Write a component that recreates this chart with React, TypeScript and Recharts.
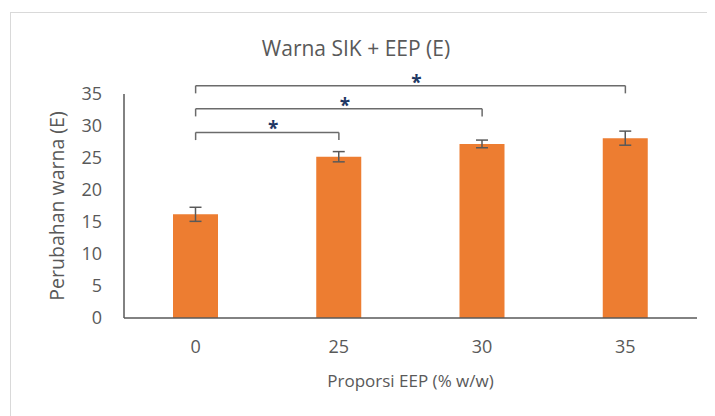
import React from 'react';
import { BarChart, Bar, XAxis, YAxis, ErrorBar, ReferenceLine } from 'recharts';

const categories = ['0', '25', '30', '35'];
const values = [16.2, 25.2, 27.2, 28.1];
const errors = [1.1, 0.8, 0.6, 1.1];
const yTicks = [0, 5, 10, 15, 20, 25, 30, 35];
const bracketFrom = ['0', '0', '0'];
const bracketTo = ['25', '30', '35'];
const bracketLevel = [29.0, 32.7, 36.3];
const bracketDrop = 1.2;

const data = categories.map((c, i) => ({ cat: c, value: values[i], err: errors[i] }));

const FONT = "'Open Sans', sans-serif";
const GRAY = '#595959';
const BRACKET = '#6b6b6b';

const box = (vb: any) => {
  if (vb && vb.x1 !== undefined) {
    return { x: Math.min(vb.x1, vb.x2), y: Math.min(vb.y1, vb.y2), width: Math.abs(vb.x2 - vb.x1), height: Math.abs(vb.y2 - vb.y1) };
  }
  return vb;
};

const Star = (props: any) => {
  const b = box(props.viewBox);
  return (
    <text x={b.x + b.width / 2 + 6} y={b.y + 3} textAnchor="middle" fill="#1F3864" fontSize={19} fontWeight="bold" fontFamily={FONT}>
      *
    </text>
  );
};

const YLabel = (props: any) => {
  const b = props.viewBox;
  const cx = 45;
  const cy = b.y + b.height / 2;
  return (
    <text x={cx} y={cy} transform={`rotate(-90 ${cx} ${cy})`} textAnchor="middle" dominantBaseline="central" fill={GRAY} fontSize={19.5} fontFamily={FONT}>
      Perubahan warna (E)
    </text>
  );
};

const XLabel = (props: any) => {
  const b = props.viewBox;
  return (
    <text x={b.x + b.width / 2} y={374} textAnchor="middle" fill={GRAY} fontSize={17} fontFamily={FONT}>
      Proporsi EEP (% w/w)
    </text>
  );
};

export default function App() {
  const refs: any[] = [];
  bracketLevel.forEach((lv, i) => {
    const f = bracketFrom[i];
    const t = bracketTo[i];
    refs.push(
      <ReferenceLine key={`h${i}`} segment={[{ x: f, y: lv }, { x: t, y: lv }]} stroke={BRACKET} strokeWidth={1.5} ifOverflow="visible" label={<Star />} />
    );
    refs.push(
      <ReferenceLine key={`l${i}`} segment={[{ x: f, y: lv }, { x: f, y: lv - bracketDrop }]} stroke={BRACKET} strokeWidth={1.5} ifOverflow="visible" />
    );
    refs.push(
      <ReferenceLine key={`r${i}`} segment={[{ x: t, y: lv }, { x: t, y: lv - bracketDrop }]} stroke={BRACKET} strokeWidth={1.5} ifOverflow="visible" />
    );
  });

  return (
    <div style={{ paddingLeft: 2, paddingTop: 4 }}>
      <div style={{ position: 'relative', width: 704, height: 403, borderTop: '1px solid #d9d9d9', borderLeft: '1px solid #d9d9d9' }}>
        <div style={{ position: 'absolute', left: 0, top: 21, width: 690, textAlign: 'center', fontFamily: FONT, fontSize: 21, color: GRAY, lineHeight: '28px', whiteSpace: 'nowrap' }}>
          Warna SIK + EEP (E)
        </div>
        <BarChart width={704} height={403} data={data} margin={{ top: 81, right: 18, bottom: 0, left: 0 }}>
          <XAxis
            dataKey="cat"
            height={98}
            tickSize={0}
            tickMargin={22}
            tickLine={false}
            axisLine={{ stroke: GRAY, strokeWidth: 1.5 }}
            tick={{ fill: GRAY, fontSize: 18, fontFamily: FONT }}
            label={<XLabel />}
          />
          <YAxis
            width={113}
            domain={[0, 35]}
            ticks={yTicks}
            interval={0}
            allowDataOverflow
            tickSize={0}
            tickMargin={22}
            tickLine={false}
            axisLine={{ stroke: GRAY, strokeWidth: 1.5 }}
            tick={{ fill: GRAY, fontSize: 18, fontFamily: FONT }}
            label={<YLabel />}
          />
          <Bar dataKey="value" fill="#ED7D31" barSize={45} isAnimationActive={false}>
            <ErrorBar dataKey="err" width={6} stroke={GRAY} strokeWidth={1.5} isAnimationActive={false} />
          </Bar>
          {refs}
        </BarChart>
      </div>
    </div>
  );
}
